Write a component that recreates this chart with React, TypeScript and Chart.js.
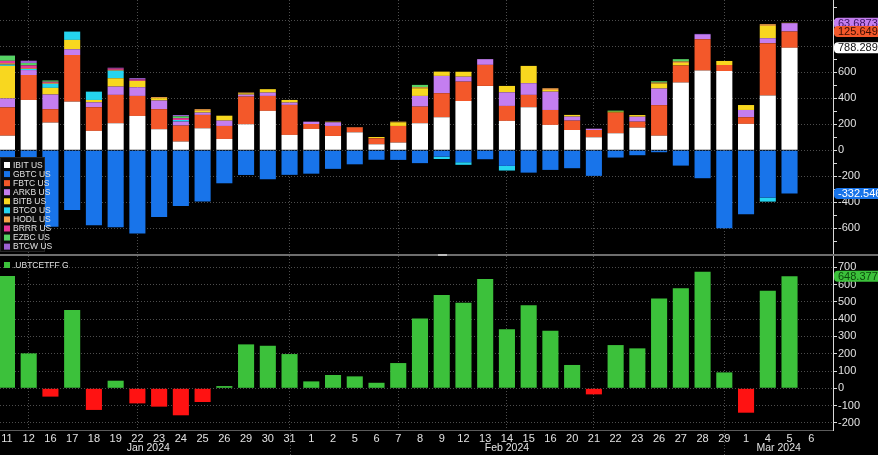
import React, { useEffect, useRef } from "react";
import { Chart, registerables } from "chart.js";

Chart.register(...registerables);

// ---------------- data ----------------
const dayLabels = [
  "11", "12", "16", "17", "18", "19", "22", "23", "24", "25", "26", "29", "30", "31",
  "1", "2", "5", "6", "7", "8", "9", "12", "13", "14", "15", "16", "20", "21", "22", "23", "26", "27", "28", "29",
  "1", "4", "5", "6",
];
const monthLabels = ["Jan 2024", "Feb 2024", "Mar 2024"];
const monthLabelIndex = [6.5, 23, 35.5];
const monthEndIndex = [13, 33];
const weekGridIndex = [1, 6, 13, 18, 23, 27, 33];

const seriesNames = ["IBIT US", "GBTC US", "FBTC US", "ARKB US", "BITB US", "BTCO US", "HODL US", "BRRR US", "EZBC US", "BTCW US"];
const seriesColors = ["#ffffff", "#1874ea", "#f3582a", "#c47ef0", "#f8d71f", "#25d4ef", "#f7a44a", "#e8379a", "#56d364", "#9d62d4"];

const ibit = [112, 387, 213, 374, 149, 208, 264, 162, 67, 169, 87, 200, 303, 118, 164, 110, 138, 46, 59, 208, 254, 379, 495, 226, 331, 195, 156, 100, 131, 174, 112, 521, 613, 610, 203, 421, 788.2897, null];
const gbtc = [-95, -484, -589, -460, -576, -592, -641, -514, -428, -394, -254, -190, -223, -189, -180, -143, -108, -73, -74, -99, -49, -92, -69, -120, -172, -151, -138, -197, -56, -38, -15, -118, -215, -600, -492, -364, -332.546, null];
const fbtc = [218, 192, 103, 359, 182, 218, 154, 154, 123, 103, 100, 213, 115, 231, 38, 77, 38, 46, 128, 128, 185, 149, 162, 115, 95, 115, 72, 56, 159, 46, 235, 131, 241, 46, 51, 403, 125.649, null];
const arkb = [69, 38, 113, 44, 38, 64, 67, 67, 31, 18, 41, 15, 26, 18, 18, 28, 0, 0, 0, 82, 133, 38, 44, 105, 90, 141, 31, 10, 0, 38, 128, 0, 33, 0, 56, 38, 63.6873, null];
const bitb = [250, 0, 51, 72, 18, 64, 49, 18, 0, 13, 38, 10, 26, 20, 0, 5, 0, 10, 28, 59, 33, 38, 0, 49, 133, 13, 13, 0, 7, 13, 38, 20, 0, 31, 38, 95, 3, null];
const btco = [10, 8, 31, 64, 64, 58, 0, 0, 12, 0, 0, 0, 0, 0, 0, 0, 0, 0, 0, 0, -18, -20, 0, -36, 0, 0, 0, 0, 0, 0, 0, 0, 0, 0, 0, -31, 0, null];
const hodl = [11, 6, 8, 0, 0, 7, 0, 8, 0, 13, 0, 6, 0, 0, 0, 0, 3, 0, 5, 8, 0, 0, 0, 0, 0, 13, 0, 0, 0, 0, 8, 11, 0, 0, 0, 13, 0, null];
const brrr = [18, 22, 8, 0, 0, 10, 10, 0, 14, 0, 0, 0, 0, 0, 0, 0, 0, 0, 0, 0, 0, 0, 0, 0, 0, 0, 0, 0, 0, 0, 0, 0, 0, 0, 0, 0, 0, null];
const ezbc = [40, 18, 10, 0, 0, 0, 0, 0, 14, 0, 0, 0, 0, 0, 0, 0, 0, 0, 0, 18, 0, 0, 0, 0, 0, 0, 0, 0, 8, 0, 10, 18, 0, 0, 0, 0, 0, null];
const btcw = [1, 18, 0, 0, 0, 6, 11, 0, 10, 0, 0, 0, 0, 0, 0, 0, 0, 0, 0, 0, 0, 0, 0, 0, 0, 0, 0, 0, 0, 0, 0, 0, 8, 0, 0, 0, 0, null];

const netName = ".UBTCETFF G";
const netFlow = [649, 202, -48, 453, -125, 44, -87, -106, -156, -79, 13, 254, 246, 198, 40, 77, 69, 32, 146, 404, 539, 495, 632, 341, 480, 333, 135, -35, 250, 231, 520, 578, 674, 92, -141, 564, 648.3772, null];

const topTicks = [-700, -600, -500, -400, -300, -200, -100, 0, 100, 200, 300, 400, 500, 600, 700, 800, 900, 1000, 1100];
const bottomTicks = [-200, -100, 0, 100, 200, 300, 400, 500, 600, 700];

const seriesData = [ibit, gbtc, fbtc, arkb, bitb, btco, hodl, brrr, ezbc, btcw];

// badge text colours (by series index) and draw order
const badgeOrder = [1, 0, 3, 2];
const badgeText: any = { 0: "#111111", 1: "#ffffff", 2: "#3a0c00", 3: "#3b1060" };

// ---------------- styling ----------------
const FONT = "'Liberation Sans', Arial, sans-serif";
const TEXT = "#e2e2e2";
const GRID = "rgba(170,170,170,0.45)";
const NONE = "rgba(0,0,0,0)";
const X_MIN = -0.32;
const X_MAX = 38.0;

const toXY = (arr: any[]) => arr.map((v, i) => ({ x: i, y: v }));

function xScale(showLabels: boolean) {
  return {
    type: "linear",
    min: X_MIN,
    max: X_MAX,
    offset: false,
    stacked: true,
    bounds: "data",
    afterBuildTicks: (s: any) => {
      s.ticks = dayLabels.map((_, i) => ({ value: i }));
    },
    afterFit: (s: any) => {
      s.height = showLabels ? 25 : 0;
      s.paddingLeft = 0;
      s.paddingRight = 0;
    },
    grid: {
      offset: false,
      drawTicks: false,
      lineWidth: 1,
      color: (ctx: any) => (ctx.tick && weekGridIndex.includes(ctx.tick.value) ? GRID : NONE),
    },
    border: { display: showLabels, color: "#5c5c5c", dash: [1, 2] },
    ticks: {
      display: showLabels,
      autoSkip: false,
      maxRotation: 0,
      minRotation: 0,
      padding: 2,
      color: TEXT,
      font: { family: FONT, size: 11 },
      callback: (v: any) => dayLabels[v] ?? "",
    },
  };
}

function yScale(min: number, max: number, ticks: number[], labelFn: (v: number) => string, gridFn: (v: number) => boolean, stacked: boolean) {
  return {
    position: "right",
    min,
    max,
    stacked,
    bounds: "data",
    afterBuildTicks: (s: any) => {
      s.ticks = ticks.map((v) => ({ value: v }));
    },
    afterFit: (s: any) => {
      s.width = 45;
      s.paddingTop = 0;
      s.paddingBottom = 0;
    },
    grid: {
      drawTicks: true,
      tickLength: 4,
      tickColor: "#d8d8d8",
      lineWidth: 1,
      color: (ctx: any) => (ctx.tick && gridFn(ctx.tick.value) ? GRID : NONE),
    },
    border: { display: true, color: "#d8d8d8", width: 1, dash: [1, 2] },
    ticks: {
      autoSkip: false,
      padding: 1,
      color: TEXT,
      font: { family: FONT, size: 11 },
      callback: (v: any) => labelFn(v),
    },
  };
}

function drawBadge(ctx: any, x: number, y: number, text: string, bg: string, fg: string) {
  const h = 11;
  ctx.save();
  ctx.fillStyle = bg;
  ctx.beginPath();
  if (ctx.roundRect) ctx.roundRect(x, y - h / 2, 60, h, 4);
  else ctx.rect(x, y - h / 2, 60, h);
  ctx.fill();
  ctx.fillStyle = fg;
  ctx.font = `11px ${FONT}`;
  ctx.textAlign = "left";
  ctx.textBaseline = "middle";
  ctx.fillText(text, x + 4, y + 0.5);
  ctx.restore();
}

const topOverlay = {
  id: "topOverlay",
  afterDraw(chart: any) {
    const ctx = chart.ctx;
    // legend box
    ctx.save();
    ctx.fillStyle = "#0b0b0b";
    ctx.fillRect(0, 157, 45, 95);
    ctx.strokeStyle = "#262626";
    ctx.lineWidth = 1;
    ctx.strokeRect(0.5, 157.5, 44, 94);
    ctx.font = `8.5px ${FONT}`;
    ctx.textBaseline = "middle";
    ctx.textAlign = "left";
    seriesNames.forEach((name, k) => {
      const y = 165 + k * 9.07;
      ctx.fillStyle = seriesColors[k];
      ctx.fillRect(4, y - 3, 6, 6);
      ctx.fillStyle = TEXT;
      ctx.fillText(name, 13, y + 0.5);
    });
    ctx.restore();
    // value badges
    const xRight = chart.chartArea.right + 1;
    badgeOrder.forEach((si) => {
      const meta = chart.getDatasetMeta(si);
      const arr = seriesData[si];
      let last = arr.length - 1;
      while (last >= 0 && arr[last] == null) last--;
      const el = meta.data[last];
      if (!el) return;
      drawBadge(ctx, xRight, el.y, String(arr[last]), seriesColors[si], badgeText[si]);
    });
  },
};

const bottomOverlay = {
  id: "bottomOverlay",
  afterDraw(chart: any) {
    const ctx = chart.ctx;
    const xs = chart.scales.x;
    const area = chart.chartArea;
    ctx.save();
    // month separators extending through label band
    ctx.strokeStyle = GRID;
    ctx.lineWidth = 1;
    ctx.setLineDash([1, 2]);
    monthEndIndex.forEach((i) => {
      const x = Math.round(xs.getPixelForValue(i)) + 0.5;
      ctx.beginPath();
      ctx.moveTo(x, area.bottom);
      ctx.lineTo(x, chart.height);
      ctx.stroke();
    });
    ctx.setLineDash([]);
    // month labels
    ctx.fillStyle = TEXT;
    ctx.font = `10.5px ${FONT}`;
    ctx.textAlign = "center";
    ctx.textBaseline = "middle";
    monthLabels.forEach((m, k) => {
      ctx.fillText(m, xs.getPixelForValue(monthLabelIndex[k]), 192);
    });
    // legend
    ctx.fillStyle = "#3cc13b";
    ctx.fillRect(4, 6, 6, 6);
    ctx.fillStyle = TEXT;
    ctx.font = `8.5px ${FONT}`;
    ctx.textAlign = "left";
    ctx.fillText(netName, 13, 9.5);
    ctx.restore();
    // badge
    const meta = chart.getDatasetMeta(0);
    let last = netFlow.length - 1;
    while (last >= 0 && netFlow[last] == null) last--;
    const el = meta.data[last];
    if (el) drawBadge(ctx, area.right + 1, el.y, String(netFlow[last]), "#3cc13b", "#0b4a0b");
  },
};

export default function App() {
  const topRef = useRef<HTMLCanvasElement | null>(null);
  const botRef = useRef<HTMLCanvasElement | null>(null);

  useEffect(() => {
    const top = new Chart(topRef.current as any, {
      type: "bar",
      data: {
        datasets: seriesNames.map((name, k) => ({
          label: name,
          data: toXY(seriesData[k]),
          backgroundColor: seriesColors[k],
          borderWidth: 0,
          barPercentage: 0.74,
          categoryPercentage: 1,
        })),
      } as any,
      options: {
        responsive: false,
        animation: false,
        events: [],
        layout: { padding: 0 },
        plugins: { legend: { display: false }, tooltip: { enabled: false } },
        scales: {
          x: xScale(false),
          y: yScale(
            -798,
            1156,
            topTicks,
            (v) => (v % 200 === 0 && v >= -600 && v <= 600 ? String(v) : ""),
            (v) => v % 200 === 0,
            true
          ),
        } as any,
      },
      plugins: [topOverlay],
    } as any);

    const bot = new Chart(botRef.current as any, {
      type: "bar",
      data: {
        datasets: [
          {
            label: netName,
            data: toXY(netFlow),
            backgroundColor: (ctx: any) => (ctx.raw && ctx.raw.y < 0 ? "#ff1212" : "#3cc13b"),
            borderWidth: 0,
            barPercentage: 0.74,
            categoryPercentage: 1,
          },
        ],
      } as any,
      options: {
        responsive: false,
        animation: false,
        events: [],
        layout: { padding: 0 },
        plugins: { legend: { display: false }, tooltip: { enabled: false } },
        scales: {
          x: xScale(true),
          y: yScale(-241, 765, bottomTicks, (v) => String(v), () => true, false),
        } as any,
      },
      plugins: [bottomOverlay],
    } as any);

    return () => {
      top.destroy();
      bot.destroy();
    };
  }, []);

  return (
    <div style={{ position: "fixed", left: 0, top: 0, width: 878, height: 455, background: "#000", overflow: "hidden" }}>
      <canvas ref={topRef} width={878} height={254} style={{ position: "absolute", left: 0, top: 0, width: 878, height: 254 }} />
      <div style={{ position: "absolute", left: 0, top: 254, width: 878, height: 2, background: "#6e6e6e" }} />
      <div style={{ position: "absolute", left: 438, top: 254, width: 9, height: 2, background: "#bdbdbd" }} />
      <canvas ref={botRef} width={878} height={199} style={{ position: "absolute", left: 0, top: 256, width: 878, height: 199 }} />
    </div>
  );
}
